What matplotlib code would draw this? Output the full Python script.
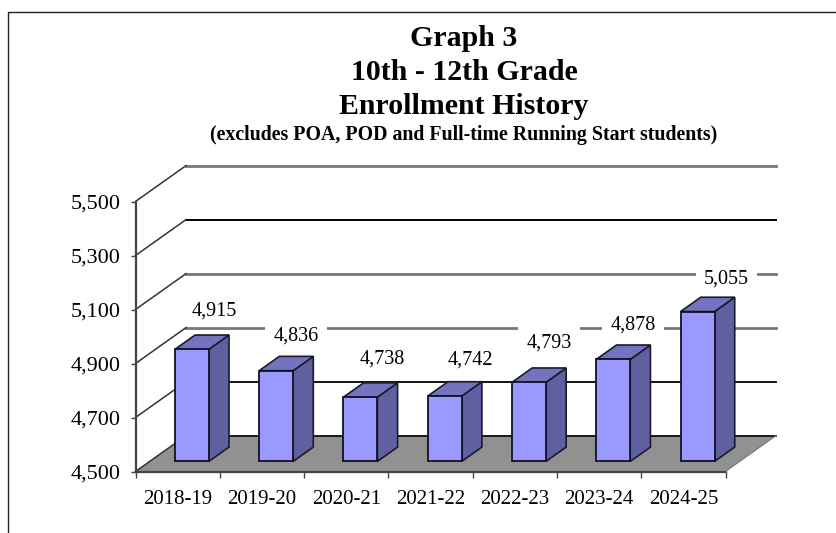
import matplotlib
matplotlib.use('Agg')
import matplotlib.pyplot as plt
from matplotlib.lines import Line2D
from matplotlib.patches import Polygon

plt.rcParams['font.family'] = ['Liberation Serif', 'DejaVu Serif']

years = ['2018-19', '2019-20', '2020-21', '2021-22', '2022-23', '2023-24', '2024-25']
enrollment = [4915, 4836, 4738, 4742, 4793, 4878, 5055]
y_ticks = [4500, 4700, 4900, 5100, 5300, 5500]
y_labels = ['4,500', '4,700', '4,900', '5,100', '5,300', '5,500']
grid_colors = ['black', 'black', '#777777', '#777777', 'black', '#777777']
grid_widths = [1.2, 1.3, 2.0, 2.0, 1.4, 2.0]
# label offset from the bar centre in pixels, they are placed by hand in the original
label_dx = [22, 20, 22, 26, 20, 20, 29]
label_dy = [38, 35, 38, 36, 39, 34, 33]
# white box behind each label, the first one must not touch the gridline under it
label_pad = [3, 6, 6, 6, 6, 6, 6]

W, H = 836, 533
fig = plt.figure(figsize=(W / 100, H / 100), dpi=100)
ax = fig.add_axes([135.5 / W, 1 - 471.5 / H, 590 / W, 270 / H])
ax.set_xlim(0, 7)
ax.set_ylim(4500, 5500)
ax.patch.set_visible(False)

# depth of the fake 3d box, in data units
depth_x = 0.6
depth_y = 133
bar_start = 0.28
bar_end = 0.68
bar_width = 0.403

floor = [(0, 4500), (7, 4500), (7 + depth_x, 4500 + depth_y), (depth_x, 4500 + depth_y)]
ax.add_patch(Polygon(floor, closed=True, facecolor='#919191', edgecolor='none', zorder=2, clip_on=False))

for tick, col, lw in zip(y_ticks, grid_colors, grid_widths):
    ax.plot([depth_x, 7 + depth_x], [tick + depth_y, tick + depth_y],
            color=col, lw=lw, zorder=3, clip_on=False)
    ax.plot([0, depth_x], [tick, tick + depth_y], color='#333333', lw=1.1, zorder=3, clip_on=False)
ax.plot([0, 7], [4500, 4500], color='#444444', lw=1.6, zorder=3, clip_on=False)
ax.plot([7, 7 + depth_x], [4500, 4500 + depth_y], color='#777777', lw=0.8, zorder=3, clip_on=False)

front_x = [i + 0.5 + bar_start * depth_x for i in range(len(years))]
base = 4500 + bar_start * depth_y
shift_x = (bar_end - bar_start) * depth_x
shift_y = (bar_end - bar_start) * depth_y

ax.bar(front_x, [v - 4500 for v in enrollment], bottom=base, width=bar_width,
       color='#9999FF', edgecolor='#111122', linewidth=1.3, zorder=5, clip_on=False)

for x, v in zip(front_x, enrollment):
    left = x - bar_width / 2
    right = x + bar_width / 2
    top = base + v - 4500
    side = [(right, base), (right + shift_x, base + shift_y), (right + shift_x, top + shift_y), (right, top)]
    lid = [(left, top), (right, top), (right + shift_x, top + shift_y), (left + shift_x, top + shift_y)]
    ax.add_patch(Polygon(side, closed=True, facecolor='#6060A0', edgecolor='#1a1a2a', lw=1.2, zorder=4, clip_on=False))
    ax.add_patch(Polygon(lid, closed=True, facecolor='#7373C0', edgecolor='#1a1a2a', lw=1.2, zorder=4, clip_on=False))

for x, v, dx, dy, pad in zip(front_x, enrollment, label_dx, label_dy, label_pad):
    ax.annotate(format(v, ','), xy=(x, base + v - 4500), xytext=(dx * 0.72, dy * 0.72),
                textcoords='offset points', ha='center', va='center', fontsize=14.5, zorder=6,
                bbox=dict(facecolor='white', edgecolor='none', pad=pad))

for name in ['top', 'right', 'bottom']:
    ax.spines[name].set_visible(False)
ax.spines['left'].set_color('#444444')
ax.spines['left'].set_linewidth(1.6)
ax.spines['left'].set_zorder(3)

ax.set_yticks(y_ticks)
ax.set_yticklabels(y_labels, fontsize=16)
ax.tick_params(axis='y', length=3.5, width=1, color='#444444', pad=7)
ax.set_xticks(range(len(years) + 1))
ax.set_xticklabels([])
ax.set_xticks([i + 0.5 for i in range(len(years))], minor=True)
ax.set_xticklabels(years, minor=True, fontsize=15)
ax.tick_params(axis='x', which='major', length=4.5, width=1, color='#444444')
ax.tick_params(axis='x', which='minor', length=0, pad=13)

# frame of the pasted chart, only top and left show
fig.add_artist(Line2D([7.5 / W, 7.5 / W, 1], [0, 1 - 12 / H, 1 - 12 / H], color='#222222', lw=1))

fig.text(464 / W, 1 - 38 / H, 'Graph 3', ha='center', va='center', fontsize=21.5, fontweight='bold')
fig.text(464 / W, 1 - 73 / H, '10th - 12th Grade', ha='center', va='center', fontsize=21.5, fontweight='bold')
fig.text(464 / W, 1 - 107 / H, 'Enrollment History', ha='center', va='center', fontsize=21.5, fontweight='bold')
fig.text(464 / W, 1 - 135 / H, '(excludes POA, POD and Full-time Running Start students)',
         ha='center', va='center', fontsize=14.3, fontweight='bold')

fig.savefig('out.png', dpi=100)
